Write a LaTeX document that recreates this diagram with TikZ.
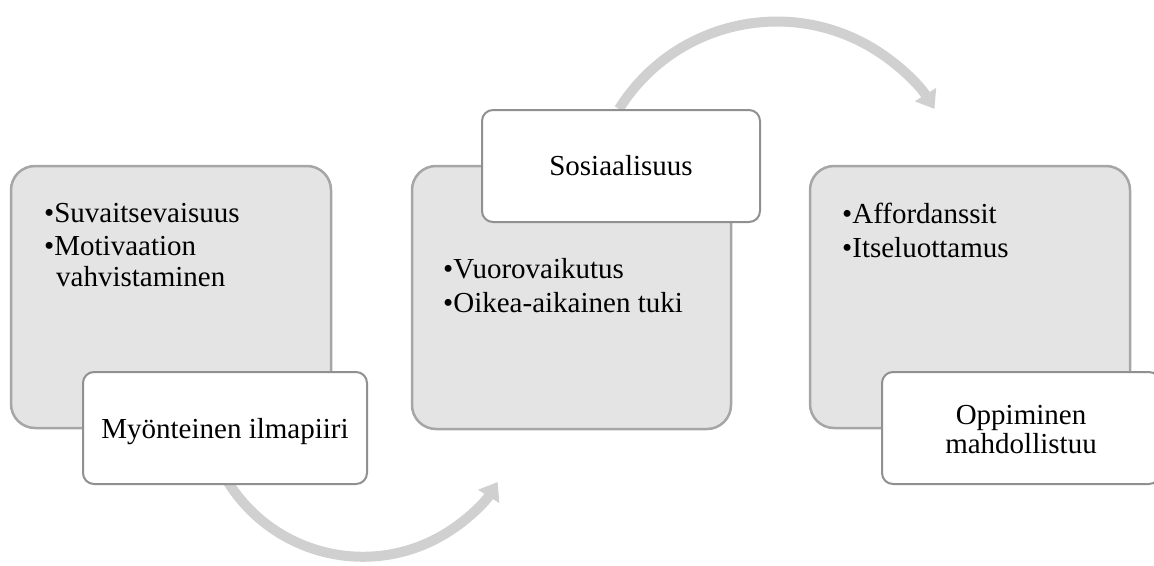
\documentclass[tikz,border=0pt]{standalone}
\usepackage{fontspec}
\setmainfont{Liberation Serif}
\usetikzlibrary{arrows.meta}
\definecolor{boxfill}{HTML}{E4E4E4}
\definecolor{boxline}{HTML}{A6A6A6}
\definecolor{wline}{HTML}{909090}
\definecolor{arrowgray}{HTML}{D0D0D0}
\tikzset{
  graybox/.style={draw=boxline, line width=2.5pt, fill=boxfill, rounded corners=24pt, inner sep=0pt},
  whitebox/.style={draw=wline, line width=2pt, fill=white, rounded corners=11pt, inner sep=0pt},
  txt/.style={inner sep=0pt, font=\fontsize{29}{33}\selectfont},
  flowarrow/.style={draw=arrowgray, line width=10pt, -{Triangle[width=24pt,length=17pt,fill=arrowgray]}}
}
\begin{document}
\begin{tikzpicture}[x=1pt,y=-1pt]
\useasboundingbox (0,0) rectangle (1154,565);
% arrows (behind the boxes)
\coordinate (a1s) at (228,482);
\coordinate (a2s) at (619,109);
\draw[flowarrow] (a1s) arc[start angle=212, end angle=328, radius=159pt] coordinate (a1e);
\draw[flowarrow] (a2s) arc[start angle=148, end angle=32, radius=186pt] coordinate (a2e);
% box 1
\node[graybox, minimum width=320pt, minimum height=262pt] (g1) at (171,297) {};
\node[txt, anchor=base west] (t11) at (44,222) {•Suvaitsevaisuus};
\node[txt, anchor=base west] (t12) at (44,255) {•Motivaation};
\node[txt, anchor=base west] (t13) at (56,286) {vahvistaminen};
\node[whitebox, minimum width=284pt, minimum height=112pt] (w1) at (225,428) {};
\node[txt, anchor=base] (l1) at (225,438) {Myönteinen ilmapiiri};
% box 2
\node[graybox, minimum width=319pt, minimum height=263pt] (g2) at (571.5,297.5) {};
\node[txt, anchor=base west] (t21) at (443,278) {•Vuorovaikutus};
\node[txt, anchor=base west] (t22) at (443,312) {•Oikea-aikainen tuki};
\node[whitebox, minimum width=278pt, minimum height=112pt] (w2) at (621,166) {};
\node[txt, anchor=base] (l2) at (621,175) {Sosiaalisuus};
% box 3
\node[graybox, minimum width=320pt, minimum height=262pt] (g3) at (970,297) {};
\node[txt, anchor=base west] (t31) at (842,223) {•Affordanssit};
\node[txt, anchor=base west] (t32) at (842,257) {•Itseluottamus};
\node[whitebox, minimum width=278pt, minimum height=112pt] (w3) at (1021,428) {};
\node[txt, anchor=base] (l3a) at (1021,424) {Oppiminen};
\node[txt, anchor=base] (l3b) at (1021,453) {mahdollistuu};
\end{tikzpicture}
\end{document}
